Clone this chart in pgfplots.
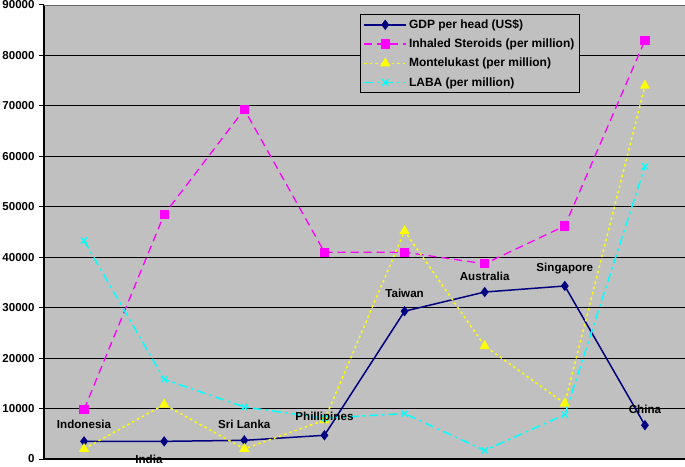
\documentclass[border=0pt]{standalone}
\usepackage{pgfplots}
\pgfplotsset{compat=1.18}
\usepackage{fontspec}
\setmainfont{Liberation Sans}
\definecolor{plotgray}{HTML}{C0C0C0}
\definecolor{gdpblue}{HTML}{000080}
\definecolor{mag}{HTML}{FF00FF}
\definecolor{yel}{HTML}{FFFF00}
\definecolor{cya}{HTML}{00FFFF}
\begin{document}
\begin{tikzpicture}
\begin{axis}[
  name=ax,
  scale only axis,
  width=641pt, height=454pt,
  xmin=-0.5, xmax=7.5,
  ymin=0, ymax=90000,
  axis background/.style={fill=plotgray},
  axis x line*=bottom, axis y line*=left,
  axis line style={-, black, line width=1.2pt},
  xtick=\empty,
  ytick={0,10000,...,80000},
  extra y ticks={90000},
  extra y tick style={grid style={draw=gray!80!black, line width=0.8pt}},
  ymajorgrids,
  grid style={black, line width=1pt},
  tick style={black, line width=1pt},
  major tick length=5pt,
  tick align=outside,
  scaled y ticks=false,
  /pgf/number format/assume math mode=true,
  yticklabel style={font=\fontsize{11.5}{13}\selectfont\bfseries, /pgf/number format/fixed, /pgf/number format/1000 sep={}, xshift=-1pt},
  legend style={at={(rel axis cs:0.493,0.98)}, anchor=north west, fill=plotgray, draw=black, line width=1pt,
    font=\fontsize{12}{13}\selectfont\bfseries, row sep=5pt, inner xsep=3pt, inner ysep=3pt},
  legend cell align=left,
  legend image code/.code={\draw[mark repeat=2, mark phase=2] plot coordinates {(0pt,0pt) (21pt,0pt) (42pt,0pt)};},
  clip=false,
]
\addplot[gdpblue, line width=1.5pt, mark=diamond*, mark size=4pt, mark options={solid, fill=gdpblue}]
  coordinates {(0,3500) (1,3500) (2,3700) (3,4700) (4,29300) (5,33100) (6,34300) (7,6700)};
\addlegendentry{GDP per head (US\$)}
\addplot[mag, line width=1.3pt, dash pattern=on 8pt off 5pt, mark=square*, mark size=4pt, mark options={solid, fill=mag}]
  coordinates {(0,9800) (1,48500) (2,69300) (3,41000) (4,41000) (5,38700) (6,46200) (7,83000)};
\addlegendentry{Inhaled Steroids (per million)}
\addplot[yel, line width=1.5pt, dash pattern=on 2.5pt off 3pt, mark=triangle*, mark size=4.5pt, mark options={solid, fill=yel}]
  coordinates {(0,2000) (1,10800) (2,2000) (3,7700) (4,45200) (5,22400) (6,11000) (7,74000)};
\addlegendentry{Montelukast (per million)}
\addplot[cya, line width=1.5pt, dash pattern=on 9pt off 4pt on 2.5pt off 4pt, mark=x, mark size=4.5pt, mark options={solid, line width=1.3pt}]
  coordinates {(0,43300) (1,15800) (2,10300) (3,8100) (4,9000) (5,1700) (6,8800) (7,58000)};
\addlegendentry{LABA (per million)}
\addplot[forget plot, draw=none, mark=none, nodes near coords, point meta=explicit symbolic,
  every node near coord/.style={anchor=center, inner sep=0pt, font=\fontsize{11.6}{13}\selectfont\bfseries, black}]
  table[meta=label] {
x y label
0 6950 Indonesia
0.81 -150 India
2 6950 {Sri Lanka}
3 8300 Phillipines
4 32900 Taiwan
5 36300 Australia
6 37800 Singapore
7 9900 China
};
\end{axis}
\pgfresetboundingbox
\path ([shift={(-44pt,-7pt)}]ax.south west) rectangle ([shift={(0pt,5pt)}]ax.north east);
\end{tikzpicture}
\end{document}
